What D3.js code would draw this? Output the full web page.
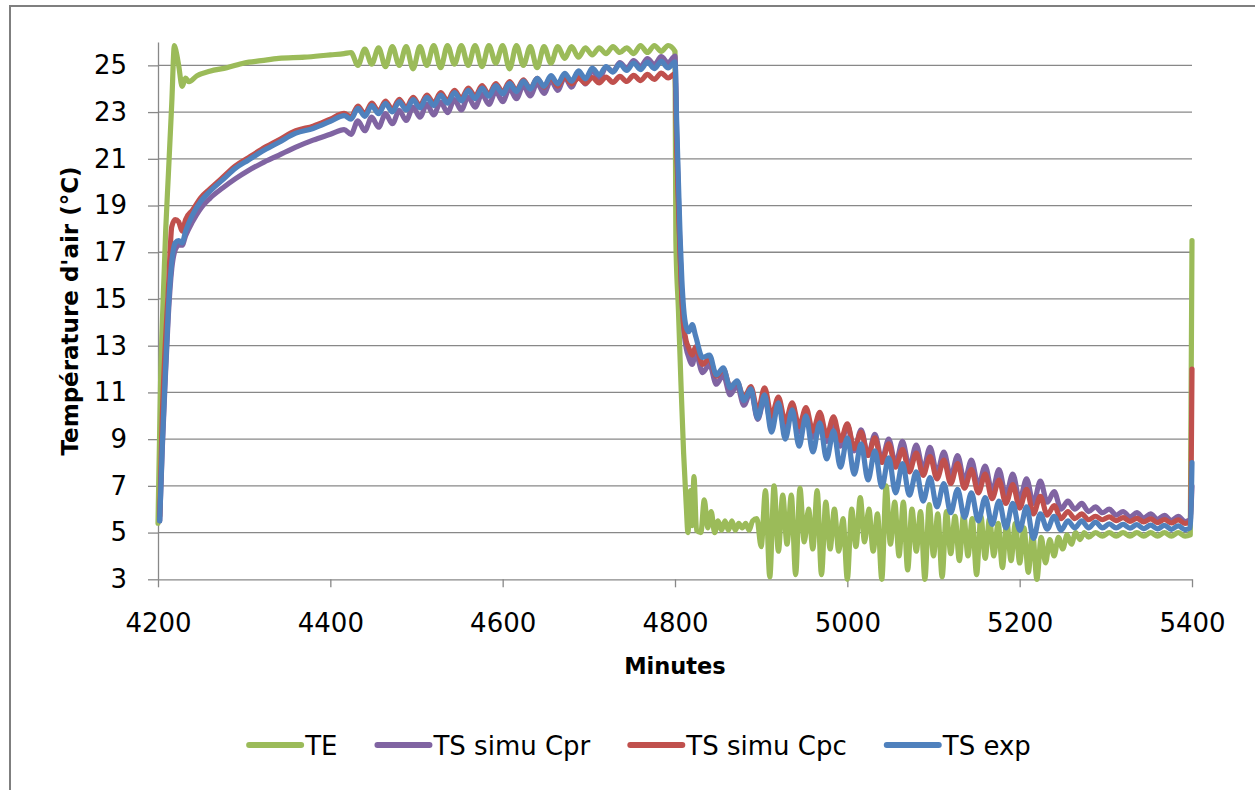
<!DOCTYPE html>
<html><head><meta charset="utf-8">
<script src="https://cdn.jsdelivr.net/npm/d3@7"></script>
<style>
body{margin:0;background:#fff}
svg{display:block}
text{font-family:"DejaVu Sans",sans-serif}
</style>
</head><body>
<svg id="chart" width="1255" height="790"></svg>
<script>
const seriesNames = ["TE", "TS simu Cpr", "TS simu Cpc", "TS exp"];
const seriesColors = ["#9bbb59", "#8064a2", "#c0504d", "#4f81bd"];
const xTicks = [4200, 4400, 4600, 4800, 5000, 5200, 5400];
const yTicks = [3, 5, 7, 9, 11, 13, 15, 17, 19, 21, 23, 25];
const xTitle = "Minutes";
const yTitle = "Température d'air (°C)";

const minutesTE = [
4200,4203,4206,4209,4212,4216,4219,4221,4224,4228,4232,4236,4245,4260,4280,4300,4320,4340,4370,4400,4416,
4424,4432,4440,4448,4456,4464,4472,4480,4488,4496,4504,4512,4520,4528,4536,4544,4552,4560,4568,4576,4584,4592,4600,4608,4616,4624,4632,4640,4648,4656,4664,4672,4680,4688,4696,4704,4712,4720,4728,4736,4744,4752,4760,4768,4776,4784,4792,4800,
4801,4804,4807,4810,4813,4815,4818,4820,4822,4825,4830,4834,4838,4842,4846,4850,4854,4858,4862,4866,4870,4874,4878,4882,4886,4890,
4895,4900,4905,4910,4915,4920,4925,4930,4935,4940,4945,4950,4955,4960,4965,4970,4975,4980,4985,4990,4995,5000,5005,5010,5015,5020,5025,5030,5035,5040,5045,5050,5055,5060,5065,5070,5075,5080,5085,5090,5095,5100,5105,5110,5115,5120,5125,5130,5135,5140,5145,5150,5155,5160,5165,5170,5175,5180,5185,5190,5195,5200,5205,5210,5215,5220,5225,
5230,5235,5240,5245,5250,5255,5260,5265,5270,5275,5280,
5288,5296,5304,5312,5320,5328,5336,5344,5352,5360,5368,5376,5384,5392,5398,5400];
const TE = [
5.4,11.5,15.0,18.0,20.3,23.4,25.85,25.6,25.0,24.1,24.45,24.3,24.55,24.75,24.9,25.1,25.2,25.3,25.35,25.45,25.5,
25.55,25.0,25.7,25.05,25.75,24.95,25.8,25.0,25.8,24.85,25.8,25.0,25.85,24.9,25.85,25.05,25.85,25.0,25.85,24.95,25.85,25.1,25.85,24.85,25.85,25.0,25.8,24.9,25.8,25.1,25.8,25.3,25.8,25.35,25.75,25.45,25.75,25.5,25.8,25.55,25.75,25.5,25.85,25.55,25.85,25.6,25.85,25.6,
17.5,14.5,11.3,8.4,6.2,5.0,6.8,5.3,7.4,5.1,5.0,6.4,5.2,5.9,5.0,5.5,5.1,5.5,5.1,5.5,5.1,5.4,5.2,5.4,5.1,5.5,
5.6,4.4,6.8,3.1,7.0,4.2,6.6,4.5,6.6,3.2,6.9,4.6,6.0,4.3,6.8,3.2,6.3,4.3,6.0,4.2,5.6,3.0,6.0,4.4,6.5,4.6,6.0,4.2,5.8,3.0,7.0,4.5,6.3,4.0,6.3,3.4,6.0,4.2,5.9,3.0,6.2,4.0,5.8,3.1,5.9,4.1,5.7,3.8,5.8,4.0,5.6,3.2,5.7,3.9,5.6,4.0,5.4,3.5,5.5,3.8,5.4,3.7,5.2,3.3,5.0,3.0,4.8,
3.7,4.7,4.0,4.8,4.3,4.9,4.5,5.0,4.7,5.0,4.8,
5.0,4.85,5.0,4.85,5.0,4.85,5.0,4.85,5.0,4.85,5.0,4.85,5.0,4.85,4.9,17.5];

const minutesTS = [
4202,4205,4208,4212,4216,4220,4224,4228,4232,4240,4250,4260,4275,4290,4305,4320,4340,4360,4380,4400,4416,
4424,4432,4440,4448,4456,4464,4472,4480,4488,4496,4504,4512,4520,4528,4536,4544,4552,4560,4568,4576,4584,4592,4600,4608,4616,4624,4632,4640,4648,4656,4664,4672,4680,4688,4696,4704,4712,4720,4728,4736,4744,4752,4760,4768,4776,4784,4792,4800,
4802,4804,4806,4808,4810,4813,4816,4820,
4824,4832,4840,4848,4856,4864,4872,4880,4888,4896,4904,4912,4920,4928,4936,4944,4952,4960,4968,4976,4984,4992,5000,5008,5016,5024,5032,5040,5048,5056,5064,5072,5080,5088,5096,5104,5112,5120,5128,5136,5144,5152,5160,5168,5176,5184,5192,5200,5208,5216,5224,5232,5240,5248,5256,5264,5272,5280,5288,5296,5304,5312,5320,5328,5336,5344,5352,5360,5368,5376,5384,5392,
5398,5400];
const TSsimuCpr = [
5.5,8.6,11.2,14.3,16.3,17.1,17.3,17.3,17.7,18.3,18.9,19.3,19.75,20.15,20.5,20.8,21.15,21.5,21.8,22.05,22.25,
22.05,22.63,22.2,22.78,22.35,22.93,22.5,23.07,22.64,23.21,22.78,23.33,22.88,23.43,22.98,23.53,23.09,23.65,23.21,23.77,23.33,23.89,23.45,24.01,23.57,24.13,23.69,24.24,23.8,24.36,23.93,24.5,24.07,24.64,24.21,24.8,24.41,24.92,24.73,25.12,24.86,25.2,24.95,25.29,25.03,25.37,25.11,25.4,
22.0,19.3,16.9,15.0,13.8,12.9,12.5,12.2,
12.7,11.85,12.2,11.35,11.75,10.9,11.3,10.45,11.05,9.85,10.75,9.6,10.5,9.45,10.4,9.3,10.2,9.1,10.0,8.9,9.8,8.7,9.6,8.5,9.4,8.3,9.2,8.1,9.0,7.95,8.9,7.8,8.75,7.7,8.65,7.55,8.45,7.4,8.3,7.2,8.1,7.0,7.85,6.75,7.7,6.6,7.5,6.4,7.3,6.25,7.2,6.3,6.75,6.0,6.35,6.0,6.25,5.9,6.1,5.85,6.0,5.75,5.9,5.67,5.85,5.62,5.8,5.57,5.74,5.52,5.69,5.47,
5.55,7.0];
const TSsimuCpc = [
5.7,10.0,12.7,15.4,18.1,18.4,18.3,17.9,18.4,18.8,19.35,19.7,20.2,20.7,21.05,21.4,21.8,22.2,22.4,22.7,22.95,
22.8,23.26,22.92,23.38,23.03,23.47,23.11,23.55,23.19,23.63,23.28,23.73,23.38,23.83,23.48,23.93,23.58,24.03,23.68,24.13,23.77,24.22,23.86,24.3,23.94,24.38,24.01,24.44,24.07,24.5,24.11,24.52,24.21,24.46,24.23,24.48,24.25,24.5,24.27,24.53,24.31,24.57,24.35,24.61,24.4,24.67,24.46,24.65,
21.5,19.0,16.8,15.0,13.9,13.2,12.9,12.6,
12.95,12.2,12.45,11.7,12.0,11.25,11.45,10.75,11.25,10.2,11.2,10.0,10.8,9.75,10.55,9.55,10.35,9.35,10.15,9.15,9.95,8.95,9.65,8.6,9.3,8.3,9.05,8.0,8.8,7.8,8.55,7.6,8.4,7.45,8.25,7.3,8.1,7.1,7.95,6.9,7.7,6.7,7.5,6.45,7.25,6.25,7.05,6.05,6.85,5.8,6.55,5.75,6.15,5.6,5.9,5.6,5.8,5.55,5.7,5.55,5.67,5.51,5.64,5.48,5.61,5.46,5.59,5.43,5.56,5.41,5.54,5.39,
5.45,12.0];
const TSexp = [
5.5,8.8,11.4,14.6,16.6,17.4,17.5,17.4,17.9,18.6,19.2,19.6,20.1,20.6,20.95,21.3,21.7,22.1,22.3,22.6,22.85,
22.7,23.16,22.82,23.28,22.93,23.37,23.01,23.45,23.09,23.53,23.18,23.63,23.28,23.73,23.38,23.83,23.48,23.93,23.58,24.03,23.68,24.13,23.78,24.23,23.88,24.33,23.98,24.44,24.1,24.56,24.21,24.66,24.32,24.77,24.42,24.88,24.59,24.95,24.71,25.06,24.78,25.1,24.82,25.14,24.86,25.17,24.89,25.15,
22.5,20.0,17.6,15.8,14.6,13.8,13.6,13.9,
13.4,12.5,12.6,11.75,12.05,11.2,11.5,10.65,11.15,9.9,10.9,9.3,10.55,9.0,10.25,8.7,10.0,8.45,9.7,8.15,9.35,7.8,9.05,7.5,8.8,7.25,8.5,6.95,8.2,6.7,7.95,6.6,7.6,6.35,7.35,6.1,7.1,5.85,6.85,5.65,6.7,5.5,6.5,5.35,6.35,5.2,6.25,5.1,6.1,4.75,5.8,5.15,5.7,5.1,5.5,5.2,5.5,5.2,5.45,5.2,5.37,5.2,5.35,5.19,5.34,5.17,5.32,5.16,5.31,5.14,5.29,5.13,
5.2,8.0];

const series = [
  {name: seriesNames[0], color: seriesColors[0], t: minutesTE, v: TE},
  {name: seriesNames[1], color: seriesColors[1], t: minutesTS, v: TSsimuCpr},
  {name: seriesNames[2], color: seriesColors[2], t: minutesTS, v: TSsimuCpc},
  {name: seriesNames[3], color: seriesColors[3], t: minutesTS, v: TSexp}
];

const svg = d3.select("#chart");
svg.append("rect").attr("x", 10).attr("y", 6).attr("width", 1270).attr("height", 800)
  .attr("fill", "#fff").attr("stroke", "#7f7f7f").attr("stroke-width", 2);

const x = d3.scaleLinear().domain([4200, 5400]).range([158, 1192]);
const y = d3.scaleLinear().domain([3, 26]).range([579.3, 42]);
const axisColor = "#888";

svg.append("g").selectAll("line").data(yTicks.filter(d => d > 3)).join("line")
  .attr("x1", x(4200)).attr("x2", x(5400))
  .attr("y1", d => y(d)).attr("y2", d => y(d))
  .attr("stroke", axisColor).attr("stroke-width", 1.3);

const gy = svg.append("g").attr("transform", `translate(${x(4200)},0)`)
  .call(d3.axisLeft(y).tickValues(yTicks).tickSize(10).tickSizeOuter(0).tickPadding(21));
const gx = svg.append("g").attr("transform", `translate(0,${y(3)})`)
  .call(d3.axisBottom(x).tickValues(xTicks).tickSize(8).tickSizeOuter(0).tickPadding(26).tickFormat(d3.format("d")));
[gx, gy].forEach(g => {
  g.select(".domain").attr("stroke", axisColor).attr("stroke-width", 1.3);
  g.selectAll(".tick line").attr("stroke", axisColor).attr("stroke-width", 1.3);
  g.selectAll(".tick text").attr("fill", "#000").style("font-size", "26px").style("font-family", '"DejaVu Sans", sans-serif');
});

const line = d3.line().curve(d3.curveMonotoneX).x(d => x(d[0])).y(d => y(d[1]));
series.forEach(s => {
  const pts = s.t.map((t, i) => [t, s.v[i]]);
  svg.append("path").datum(pts).attr("d", line)
    .attr("fill", "none").attr("stroke", s.color).attr("stroke-width", 5.2)
    .attr("stroke-linejoin", "round").attr("stroke-linecap", "round");
});

svg.append("text").attr("x", 675).attr("y", 674).attr("text-anchor", "middle")
  .style("font-size", "22.5px").style("font-weight", "bold").text(xTitle);
svg.append("text").attr("transform", "translate(78,311) rotate(-90)").attr("text-anchor", "middle")
  .style("font-size", "23px").style("font-weight", "bold").text(yTitle);

// legend
const lg = svg.append("g");
let cx = 0;
series.forEach(s => {
  const g = lg.append("g");
  g.append("line").attr("x1", 0).attr("x2", 52).attr("y1", 0).attr("y2", 0)
    .attr("stroke", s.color).attr("stroke-width", 6).attr("stroke-linecap", "round");
  const t = g.append("text").attr("x", 56).attr("y", 9.5).style("font-size", "26px").text(s.name);
  const w = 56 + t.node().getComputedTextLength();
  g.attr("transform", `translate(${cx},0)`);
  cx += w + 40;
});
const total = cx - 40;
lg.attr("transform", `translate(${640 - total / 2},745)`);
</script>
</body></html>
